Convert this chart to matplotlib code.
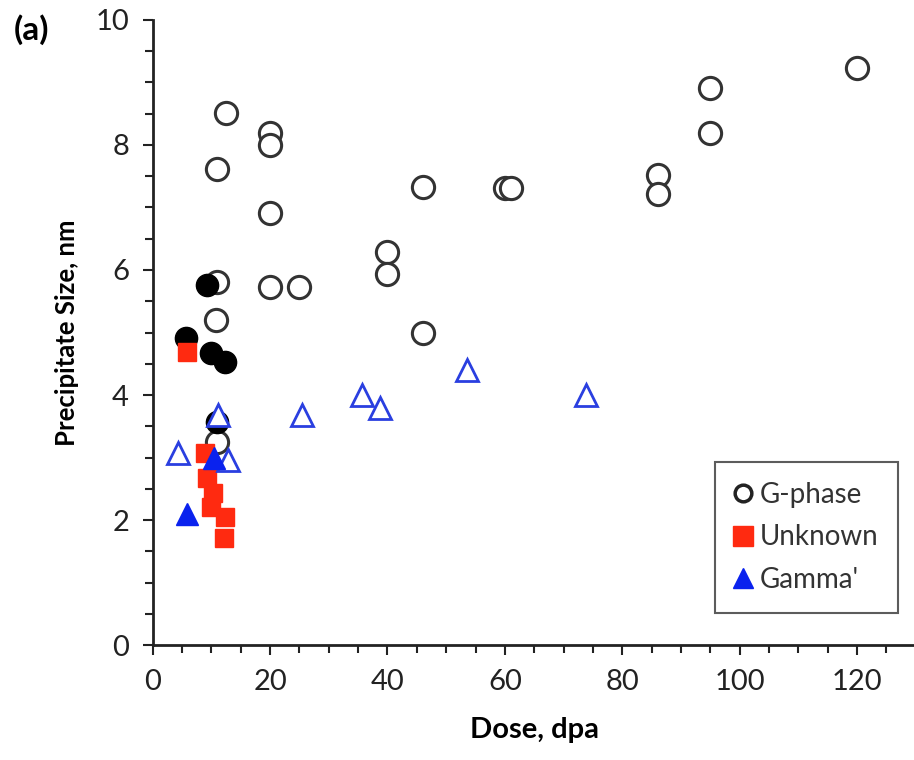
import matplotlib
matplotlib.use("Agg")
import matplotlib.pyplot as plt
from matplotlib.ticker import MultipleLocator

plt.rcParams['font.family'] = ['Lato', 'DejaVu Sans']

# G-phase (open circles)
g_dose = [120, 95, 95, 86, 86, 60, 61, 46, 46, 40, 40, 25, 20, 20, 20, 20, 12.5, 11, 11, 10.8, 11]
g_size = [9.23, 8.91, 8.19, 7.52, 7.22, 7.31, 7.31, 7.33, 5.0, 6.29, 5.94, 5.73, 5.73, 6.91, 8.19, 8.0, 8.51, 7.62, 5.81, 5.2, 3.25]

# G-phase, filled black circles
gf_dose = [9.3, 5.6, 9.9, 12.4, 11]
gf_size = [5.76, 4.91, 4.67, 4.53, 3.57]

# Unknown (red squares)
u_dose = [5.8, 9.0, 9.3, 10.2, 9.9, 12.4, 12.1]
u_size = [4.69, 3.07, 2.67, 2.43, 2.21, 2.05, 1.71]

# Gamma' filled
gam_f_dose = [5.9, 10.4]
gam_f_size = [2.1, 3.0]

# Gamma' open
gam_o_dose = [4.4, 11.2, 12.9, 25.5, 35.6, 38.8, 53.6, 73.9]
gam_o_size = [3.07, 3.68, 2.96, 3.68, 4.0, 3.79, 4.4, 4.0]

fig = plt.figure(figsize=(9.14, 7.6), dpi=100)
ax = fig.add_axes([0.167, 0.151, 0.835, 0.823])

ax.plot(g_dose, g_size, 'o', ms=16, mfc='white', mec='#333333', mew=2.2, ls='none', zorder=2)
ax.plot(gf_dose, gf_size, 'o', ms=16, mfc='black', mec='black', mew=1, ls='none', zorder=3)
ax.plot(u_dose, u_size, 's', ms=13, mfc='#ff2a10', mec='#ff2a10', ls='none', zorder=4)
ax.plot(gam_o_dose, gam_o_size, '^', ms=16, mfc='white', mec='#2a3fe0', mew=2, ls='none', zorder=5)
ax.plot(gam_f_dose, gam_f_size, '^', ms=16, mfc='#0a22ee', mec='#0a22ee', ls='none', zorder=6)

# legend entries
h1, = ax.plot([], [], 'o', ms=12, mfc='white', mec='#222222', mew=2.5, ls='none')
h2, = ax.plot([], [], 's', ms=15, mfc='#ff2a10', mec='#ff2a10', ls='none')
h3, = ax.plot([], [], '^', ms=14, mfc='#0a22ee', mec='#0a22ee', ls='none')
leg = ax.legend([h1, h2, h3], ['G-phase', 'Unknown', "Gamma'"], loc='lower right',
                bbox_to_anchor=(0.995, 0.03), fontsize=20, frameon=True, fancybox=False,
                edgecolor='#333333', handlelength=0.6, handletextpad=0.3,
                labelspacing=0.6, borderpad=0.7, labelcolor='#333333')
leg.get_frame().set_linewidth(1.5)

ax.set_xlim(0, 130)
ax.set_ylim(0, 10)
ax.xaxis.set_major_locator(MultipleLocator(20))
ax.xaxis.set_minor_locator(MultipleLocator(5))
ax.yaxis.set_major_locator(MultipleLocator(2))
ax.yaxis.set_minor_locator(MultipleLocator(0.5))
ax.set_xticks(range(0, 121, 20))

for s in ['top', 'right']:
    ax.spines[s].set_visible(False)
for s in ['left', 'bottom']:
    ax.spines[s].set_linewidth(2)
    ax.spines[s].set_color('#222222')

ax.tick_params(axis='both', which='major', direction='out', length=7, width=1.5,
               labelsize=21, pad=10, colors='#222222')
ax.tick_params(axis='both', which='minor', direction='out', length=6, width=1.5, colors='#222222')

ax.set_xlabel('Dose, dpa', fontsize=21, fontweight='bold', labelpad=16)
ax.set_ylabel('Precipitate Size, nm', fontsize=18.5, fontweight='bold', labelpad=12)

fig.text(0.015, 0.948, '(a)', fontsize=24, fontweight='bold')

fig.savefig('out.png', dpi=100)
